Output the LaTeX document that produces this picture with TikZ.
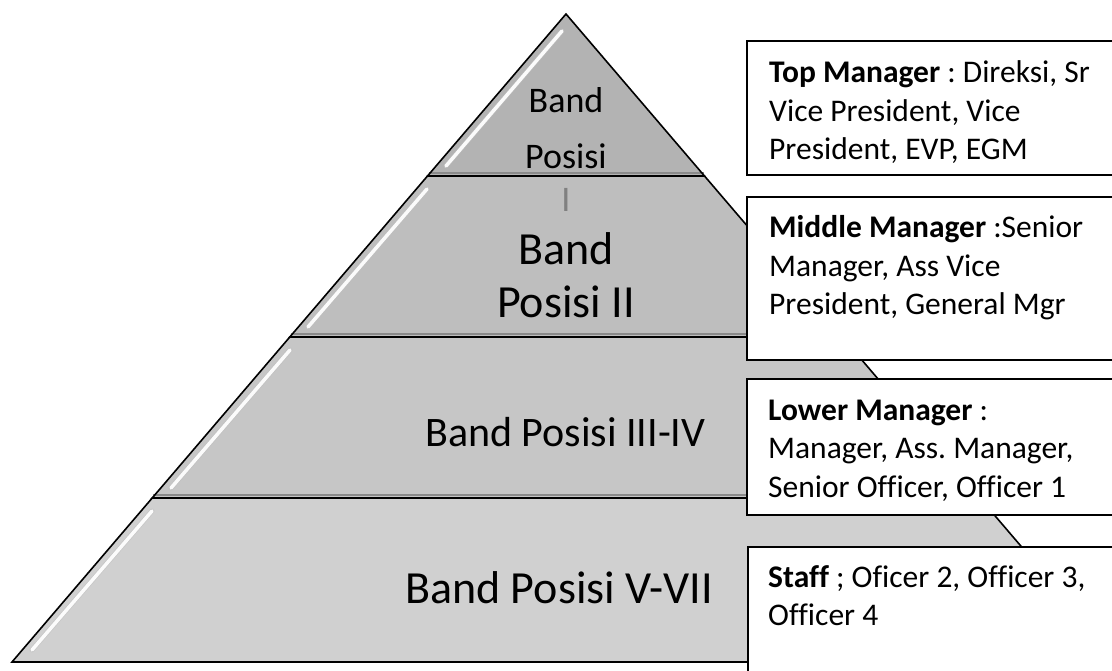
\documentclass[tikz,border=0pt]{standalone}
\usepackage{fontspec}
\setmainfont{Carlito}[Ligatures=NoCommon]
\frenchspacing
\definecolor{lvA}{HTML}{B3B3B3}
\definecolor{lvB}{HTML}{BEBEBE}
\definecolor{lvC}{HTML}{C6C6C6}
\definecolor{lvD}{HTML}{D0D0D0}
\definecolor{shade}{HTML}{8A8A8A}
\begin{document}
\begin{tikzpicture}[x=1pt,y=-1pt,
  level/.style={draw=black,line width=1.6pt,line join=miter},
  sepshadow/.style={draw=shade,line width=2.5pt},
  glint/.style={draw=white,line width=3.5pt,line cap=round,opacity=0.95},
  glintedge/.style={draw=black!25,line width=5pt,line cap=round,opacity=0.5},
  infobox/.style={draw=black,line width=1.1pt,fill=white},
  boxtxt/.style={anchor=base west,inner sep=0pt,font=\fontsize{31.5}{38}\selectfont},
  bandtxt/.style={inner sep=0pt}]
\useasboundingbox (0,0) rectangle (1112,671);
\clip (0,0) rectangle (1112,671);
% pyramid levels
\coordinate (apex) at (566,14);
\coordinate (l1) at (427.5,176); \coordinate (r1) at (704.5,176);
\coordinate (l2) at (289.8,337); \coordinate (r2) at (842.2,337);
\coordinate (l3) at (152.2,498); \coordinate (r3) at (979.8,498);
\coordinate (l4) at (12,662);    \coordinate (r4) at (1120,662);
\fill[lvD] (l3) -- (r3) -- (r4) -- (l4) -- cycle;
\fill[lvC] (l2) -- (r2) -- (r3) -- (l3) -- cycle;
\fill[lvB] (l1) -- (r1) -- (r2) -- (l2) -- cycle;
\fill[lvA] (apex) -- (r1) -- (l1) -- cycle;
% shadows below separators
\draw[sepshadow] ([xshift=1pt,yshift=3pt]l1) -- ([xshift=-1pt,yshift=3pt]r1);
\draw[sepshadow] ([xshift=1pt,yshift=3pt]l2) -- ([xshift=-1pt,yshift=3pt]r2);
\draw[sepshadow] ([xshift=1pt,yshift=3pt]l3) -- ([xshift=-1pt,yshift=3pt]r3);
% glints
\coordinate (g1a) at (562,31);  \coordinate (g1b) at (446,166);
\coordinate (g2a) at (427,189); \coordinate (g2b) at (308,327);
\coordinate (g3a) at (290,350); \coordinate (g3b) at (171,488);
\coordinate (g4a) at (152,511); \coordinate (g4b) at (32,650);
\foreach \a/\b in {g1a/g1b,g2a/g2b,g3a/g3b,g4a/g4b}{
  \draw[glintedge] (\a) -- (\b);
  \draw[glint] (\a) -- (\b);
}
% outlines
\draw[level] (apex) -- (r1) -- (l1) -- cycle;
\draw[level] (l1) -- (r1) -- (r2) -- (l2) -- cycle;
\draw[level] (l2) -- (r2) -- (r3) -- (l3) -- cycle;
\draw[level] (l3) -- (r3) -- (r4) -- (l4) -- cycle;
% band labels
\node[bandtxt,anchor=base,font=\fontsize{36}{43}\selectfont] (t1a) at (566,113) {Band};
\node[bandtxt,anchor=base,font=\fontsize{36}{43}\selectfont] (t1b) at (566,169) {Posisi};
\node[bandtxt,anchor=base,font=\fontsize{36}{43}\selectfont,text=black!50] (t1c) at (566,212) {I};
\node[bandtxt,anchor=base,font=\fontsize{46}{55}\selectfont] (t2a) at (566,265) {Band};
\node[bandtxt,anchor=base,font=\fontsize{46}{55}\selectfont] (t2b) at (566,318) {Posisi II};
\node[bandtxt,anchor=base west,font=\fontsize{42}{50}\selectfont] (t3) at (425,446) {Band Posisi III-IV};
\node[bandtxt,anchor=base west,font=\fontsize{46}{55}\selectfont] (t4) at (405,603) {Band Posisi V-VII};
% info boxes
\path[infobox] (747,41) rectangle (1125,175);
\path[infobox] (747,197) rectangle (1125,360);
\path[infobox] (747,379) rectangle (1125,515);
\path[infobox] (748,547) rectangle (1125,700);
\node[boxtxt] (b1a) at (769,83)  {\textbf{Top Manager} : Direksi, Sr};
\node[boxtxt] (b1b) at (769,122) {Vice President, Vice};
\node[boxtxt] (b1c) at (769,160) {President, EVP, EGM};
\node[boxtxt] (b2a) at (769,238) {\textbf{Middle Manager} :Senior};
\node[boxtxt] (b2b) at (769,277) {Manager, Ass Vice};
\node[boxtxt] (b2c) at (769,315) {President, General Mgr};
\node[boxtxt] (b3a) at (768,420) {\textbf{Lower Manager} :};
\node[boxtxt] (b3b) at (768,458) {Manager, Ass. Manager,};
\node[boxtxt] (b3c) at (768,497) {Senior Officer, Officer 1};
\node[boxtxt] (b4a) at (768,587) {\textbf{Staff} ; Oficer 2, Officer 3,};
\node[boxtxt] (b4b) at (768,625) {Officer 4};
\end{tikzpicture}
\end{document}
